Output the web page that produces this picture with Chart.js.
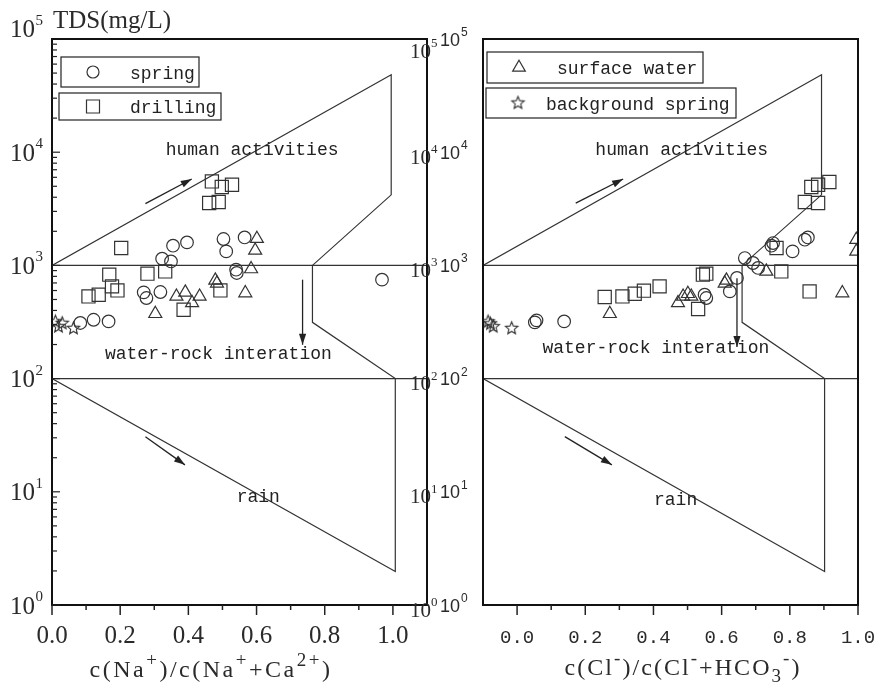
<!DOCTYPE html>
<html><head><meta charset="utf-8">
<script src="https://cdn.jsdelivr.net/npm/chart.js@4.4.1/dist/chart.umd.min.js"></script>
<style>
html,body{margin:0;padding:0;background:#fff;}
#wrap{position:relative;width:884px;height:689px;overflow:hidden;background:#fff;}
canvas{position:absolute;left:0;top:0;}
</style></head><body>
<div id="wrap"><canvas id="cL" width="884" height="689"></canvas><canvas id="cR" width="884" height="689"></canvas></div>
<script>
// ---------------- data ----------------
const xTickValues = [0, 0.2, 0.4, 0.6, 0.8, 1.0];
const xTickLabels = ['0.0', '0.2', '0.4', '0.6', '0.8', '1.0'];
const yTickValues = [1, 10, 100, 1000, 10000, 100000];
const yTickExponents = ['0', '1', '2', '3', '4', '5'];
const seriesNames = ['spring', 'drilling', 'surface water', 'background spring'];

// Left panel: c(Na+)/c(Na+ + Ca2+) vs TDS
const springNa = [0.355, 0.396, 0.323, 0.349, 0.503, 0.511, 0.565, 0.540, 0.542, 0.269, 0.277, 0.318, 0.083, 0.122, 0.166, 0.968];
const springTdsNa = [1493, 1596, 1146, 1084, 1710, 1330, 1766, 916, 857, 578, 515, 582, 310, 331, 320, 748];
const drillingNa = [0.469, 0.498, 0.528, 0.461, 0.489, 0.203, 0.168, 0.280, 0.332, 0.176, 0.192, 0.107, 0.137, 0.494, 0.386];
const drillingTdsNa = [5520, 4930, 5160, 3560, 3630, 1425, 828, 845, 885, 653, 601, 532, 551, 601, 406];
const surfaceNa = [0.601, 0.596, 0.584, 0.479, 0.484, 0.567, 0.365, 0.391, 0.411, 0.433, 0.303];
const surfaceTdsNa = [1722, 1355, 929, 737, 695, 570, 532, 578, 466, 532, 374];
const backgroundNa = [0.010, 0.019, 0.030, 0.063];
const backgroundTdsNa = [318, 288, 308, 278];

// Right panel: c(Cl-)/c(Cl- + HCO3-) vs TDS
const springCl = [0.853, 0.844, 0.751, 0.746, 0.808, 0.668, 0.692, 0.707, 0.645, 0.624, 0.550, 0.555, 0.052, 0.057, 0.138];
const springTdsCl = [1766, 1686, 1575, 1493, 1330, 1161, 1050, 949, 774, 589, 551, 515, 314, 327, 320];
const drillingCl = [0.916, 0.883, 0.863, 0.844, 0.883, 0.761, 0.775, 0.545, 0.555, 0.418, 0.531, 0.858, 0.257, 0.309, 0.345, 0.372];
const drillingTdsCl = [5450, 5160, 4930, 3630, 3560, 1425, 885, 828, 845, 653, 412, 589, 526, 532, 562, 598];
const surfaceCl = [0.731, 0.614, 0.609, 0.501, 0.487, 0.472, 0.511, 0.954, 0.995, 0.995, 0.272];
const surfaceTdsCl = [885, 737, 695, 562, 532, 466, 532, 570, 1690, 1330, 374];
const backgroundCl = [-0.085, -0.070, -0.078, -0.016];
const backgroundTdsCl = [318, 288, 305, 278];

// Gibbs boundary outlines
const gibbsNaX = [0, 0.995, 0.995, 0.764, 0.764, 1.007, 1.007, 0];
const gibbsClX = [-0.1, 0.893, 0.893, 0.660, 0.660, 0.902, 0.902, -0.1];
const gibbsTds = [1000, 48400, 4200, 1000, 314, 100, 1.98, 100];
const dividerTds = [1000, 100];

// Trend arrows [x1, tds1, x2, tds2]
const arrowsNa = [[0.274, 3510, 0.410, 5800], [0.735, 748, 0.735, 199], [0.274, 30.7, 0.390, 17.3]];
const arrowsCl = [[0.172, 3550, 0.311, 5800], [0.645, 770, 0.645, 190], [0.140, 30.7, 0.278, 17.3]];
const zoneNames = ['human activities', 'water-rock interation', 'rain'];

// ---------------- helpers ----------------
const INK = '#333';
function pts(xs, ys) { return xs.map((x, i) => ({ x: x, y: ys[i] })); }
function starCanvas(r) {
  const s = Math.ceil(r * 2 + 4);
  const c = document.createElement('canvas'); c.width = s; c.height = s;
  const g = c.getContext('2d'); g.strokeStyle = INK; g.lineWidth = 1.1;
  g.beginPath();
  for (let i = 0; i < 10; i++) {
    const a = -Math.PI / 2 + i * Math.PI / 5; const rr = i % 2 ? r * 0.45 : r;
    g.lineTo(s / 2 + rr * Math.cos(a), s / 2 + rr * Math.sin(a));
  }
  g.closePath(); g.stroke();
  return c;
}
const STAR = starCanvas(6.5);
function markerDs(label, data, style, r) {
  return { label: label, data: data, showLine: false, pointStyle: style, pointRadius: r,
    pointBorderColor: INK, pointBackgroundColor: 'rgba(0,0,0,0)', pointBorderWidth: 1.2 };
}
function lineDs(data) {
  return { label: '', data: data, showLine: true, borderColor: INK, borderWidth: 1.2, pointRadius: 0, fill: false, tension: 0 };
}
function drawMarker(ctx, type, x, y) {
  ctx.save(); ctx.strokeStyle = INK; ctx.lineWidth = 1.2; ctx.beginPath();
  if (type === 'circle') { ctx.arc(x, y, 6, 0, Math.PI * 2); }
  else if (type === 'rect') { ctx.rect(x - 6.5, y - 6.5, 13, 13); }
  else if (type === 'triangle') { const r = 7.3; for (let k = 0; k < 3; k++) { const a = -Math.PI / 2 + k * 2 * Math.PI / 3; ctx.lineTo(x + r * Math.cos(a), y + r * Math.sin(a)); } ctx.closePath(); }
  ctx.stroke();
  if (type === 'star') ctx.drawImage(STAR, x - STAR.width / 2, y - STAR.height / 2);
  ctx.restore();
}
function richText(ctx, parts, cx, base, size, family, targetW) {
  const setF = m => ctx.font = (m === 0 ? size : Math.round(size * 0.8)) + 'px "' + family + '"';
  let w0 = 0, n = 0;
  ctx.letterSpacing = '0px';
  parts.forEach(([t, m]) => { setF(m); w0 += ctx.measureText(t).width; n += t.length; });
  const ls = Math.max(0, (targetW - w0) / n);
  let x = cx - (w0 + ls * n) / 2;
  ctx.textAlign = 'left'; ctx.textBaseline = 'alphabetic';
  parts.forEach(([t, m]) => {
    setF(m); ctx.letterSpacing = '0px';
    const w = ctx.measureText(t).width;
    ctx.letterSpacing = ls + 'px';
    const dy = m === 1 ? -size * 0.45 : (m === -1 ? size * 0.3 : 0);
    ctx.fillText(t, x, base + dy);
    x += w + ls * t.length;
  });
  ctx.letterSpacing = '0px';
}
function arrow(ctx, x1, y1, x2, y2) {
  ctx.save(); ctx.strokeStyle = '#222'; ctx.fillStyle = '#222'; ctx.lineWidth = 1.3;
  ctx.beginPath(); ctx.moveTo(x1, y1); ctx.lineTo(x2, y2); ctx.stroke();
  const a = Math.atan2(y2 - y1, x2 - x1), L = 11, W = 3.6;
  ctx.beginPath(); ctx.moveTo(x2, y2);
  ctx.lineTo(x2 - L * Math.cos(a) + W * Math.sin(a), y2 - L * Math.sin(a) - W * Math.cos(a));
  ctx.lineTo(x2 - L * Math.cos(a) - W * Math.sin(a), y2 - L * Math.sin(a) + W * Math.cos(a));
  ctx.closePath(); ctx.fill(); ctx.restore();
}

const decoPlugin = {
  id: 'deco',
  afterDraw(chart, args, o) {
    const ctx = chart.ctx, ca = chart.chartArea, xs = chart.scales.x, ys = chart.scales.y;
    ctx.save();
    // frame
    ctx.strokeStyle = '#111'; ctx.lineWidth = 2;
    ctx.strokeRect(ca.left, ca.top, ca.right - ca.left, ca.bottom - ca.top);
    // x ticks (0.1 steps, outward)
    ctx.lineWidth = 1.5; ctx.strokeStyle = '#222';
    for (let k = 0; k <= 10; k++) {
      const px = xs.getPixelForValue(k / 10), len = k % 2 === 0 ? 10 : 5;
      ctx.beginPath(); ctx.moveTo(px, ca.bottom); ctx.lineTo(px, ca.bottom + len); ctx.stroke();
    }
    ctx.fillStyle = '#2a2a2a';
    if (o.side === 'left') {
      // inward minor ticks on left axis
      ctx.lineWidth = 1.2;
      for (let e = 0; e < 5; e++) for (let m = 1; m <= 9; m++) {
        const py = ys.getPixelForValue(m * Math.pow(10, e)); const len = m === 1 ? 8 : 5;
        ctx.beginPath(); ctx.moveTo(ca.left, py); ctx.lineTo(ca.left + len, py); ctx.stroke();
      }
      // y labels (left, serif)
      yTickValues.forEach((v, i) => {
        const py = ys.getPixelForValue(v) + (i === 5 ? -10.5 : 0);
        ctx.font = '25px "Liberation Serif"'; ctx.textAlign = 'right'; ctx.textBaseline = 'alphabetic';
        ctx.fillText('10', 35, py + 8.5);
        ctx.font = '15px "Liberation Serif"'; ctx.textAlign = 'left';
        ctx.fillText(yTickExponents[i], 35.5, py - 4);
      });
      // y labels (right side, overlapping frame)
      yTickValues.forEach((v, i) => {
        const py = ys.getPixelForValue(v) + (i === 5 ? 11 : 4);
        ctx.font = '21px "Liberation Serif"'; ctx.textAlign = 'left'; ctx.textBaseline = 'alphabetic';
        ctx.fillText('10', 410, py + 7.5);
        ctx.font = '13px "Liberation Serif"';
        ctx.fillText(yTickExponents[i], 431, py - 3);
      });
      ctx.font = '25px "Liberation Serif"'; ctx.textAlign = 'left'; ctx.textBaseline = 'alphabetic';
      ctx.fillText('TDS(mg/L)', 53, 28);
      richText(ctx, [['c(Na', 0], ['+', 1], [')/c(Na', 0], ['+', 1], ['+Ca', 0], ['2+', 1], [')', 0]], 211, 677, 24, 'Liberation Serif', 243);
    } else {
      yTickValues.forEach((v, i) => {
        const py = ys.getPixelForValue(v);
        ctx.font = '18px "Liberation Sans"'; ctx.textAlign = 'right'; ctx.textBaseline = 'alphabetic';
        ctx.fillText('10', 460, py + 6.5);
        ctx.font = '12px "Liberation Sans"'; ctx.textAlign = 'left';
        ctx.fillText(yTickExponents[i], 461, py - 3);
      });
      richText(ctx, [['c(Cl', 0], ['-', 1], [')/c(Cl', 0], ['-', 1], ['+HCO', 0], ['3', -1], ['-', 1], [')', 0]], 683, 675, 24, 'Liberation Serif', 237);
    }
    // legend boxes
    ctx.lineWidth = 1.2; ctx.strokeStyle = '#222';
    o.legend.forEach(L => {
      ctx.strokeRect(L.box[0], L.box[1], L.box[2] - L.box[0], L.box[3] - L.box[1]);
      drawMarker(ctx, L.marker, L.mx, (L.box[1] + L.box[3]) / 2);
      ctx.font = '18px "Liberation Mono"'; ctx.textAlign = 'left'; ctx.textBaseline = 'middle';
      ctx.fillStyle = '#222';
      ctx.fillText(L.text, L.tx, (L.box[1] + L.box[3]) / 2 + 2);
    });
    // zone labels
    ctx.font = '18px "Liberation Mono"'; ctx.textAlign = 'center'; ctx.textBaseline = 'middle'; ctx.fillStyle = '#222';
    o.zones.forEach((z, i) => ctx.fillText(zoneNames[i], xs.getPixelForValue(z[0]), ys.getPixelForValue(z[1])));
    // arrows
    o.arrows.forEach(a => arrow(ctx, xs.getPixelForValue(a[0]), ys.getPixelForValue(a[1]), xs.getPixelForValue(a[2]), ys.getPixelForValue(a[3])));
    ctx.restore();
  }
};

function build(id, cfg) {
  const xmin = cfg.xmin, xmax = cfg.xmax;
  const datasets = [
    markerDs(seriesNames[0], pts(cfg.spring[0], cfg.spring[1]), 'circle', 6.3),
    markerDs(seriesNames[1], pts(cfg.drilling[0], cfg.drilling[1]), 'rect', 9.3),
    markerDs(seriesNames[2], pts(cfg.surface[0], cfg.surface[1]), 'triangle', 7.5),
    markerDs(seriesNames[3], pts(cfg.background[0], cfg.background[1]), STAR, 6.5),
    lineDs(pts(cfg.gibbsX, gibbsTds)),
    lineDs(pts([xmin, xmax], [dividerTds[0], dividerTds[0]])),
    lineDs(pts([xmin, xmax], [dividerTds[1], dividerTds[1]]))
  ];
  return new Chart(document.getElementById(id), {
    type: 'scatter',
    data: { datasets: datasets },
    plugins: [decoPlugin],
    options: {
      responsive: false, animation: false, events: [],
      layout: { padding: cfg.padding },
      plugins: { legend: { display: false }, tooltip: { enabled: false }, deco: cfg.deco },
      scales: {
        x: {
          type: 'linear', min: xmin, max: xmax,
          grid: { display: false, drawTicks: false }, border: { display: false },
          ticks: { autoSkip: false, maxRotation: 0, padding: cfg.tickPad, color: '#2a2a2a', font: cfg.tickFont,
            callback: (v, i) => xTickLabels[i] },
          afterBuildTicks: s => { s.ticks = xTickValues.map(v => ({ value: v })); },
          afterFit: s => { s.height = 84; s.paddingLeft = 0; s.paddingRight = 0; }
        },
        y: {
          type: 'logarithmic', min: 1, max: 100000,
          grid: { display: false, drawTicks: false }, border: { display: false },
          ticks: { display: false },
          afterFit: s => { s.width = cfg.yWidth; s.paddingTop = 0; s.paddingBottom = 0; }
        }
      }
    }
  });
}

build('cL', {
  xmin: 0, xmax: 1.1, yWidth: 52, padding: { left: 0, right: 457, top: 39, bottom: 0 },
  tickPad: 16, tickFont: { family: 'Liberation Serif', size: 25 },
  spring: [springNa, springTdsNa], drilling: [drillingNa, drillingTdsNa],
  surface: [surfaceNa, surfaceTdsNa], background: [backgroundNa, backgroundTdsNa], gibbsX: gibbsNaX,
  deco: {
    side: 'left', arrows: arrowsNa,
    zones: [[0.587, 10500], [0.488, 165], [0.605, 8.9]],
    legend: [
      { box: [61, 57, 199, 87], marker: 'circle', mx: 93, text: seriesNames[0], tx: 130 },
      { box: [59, 93, 221, 120], marker: 'rect', mx: 93, text: seriesNames[1], tx: 130 }
    ]
  }
});
build('cR', {
  xmin: -0.1, xmax: 1.0, yWidth: 40, padding: { left: 443, right: 26, top: 39, bottom: 0 },
  tickPad: 22, tickFont: { family: 'Liberation Mono', size: 19 },
  spring: [springCl, springTdsCl], drilling: [drillingCl, drillingTdsCl],
  surface: [surfaceCl, surfaceTdsCl], background: [backgroundCl, backgroundTdsCl], gibbsX: gibbsClX,
  deco: {
    side: 'right', arrows: arrowsCl,
    zones: [[0.483, 10500], [0.407, 184], [0.465, 8.5]],
    legend: [
      { box: [487, 52, 703, 83], marker: 'triangle', mx: 519, text: seriesNames[2], tx: 557 },
      { box: [486, 88, 736, 118], marker: 'star', mx: 518, text: seriesNames[3], tx: 546 }
    ]
  }
});
</script>
</body></html>
